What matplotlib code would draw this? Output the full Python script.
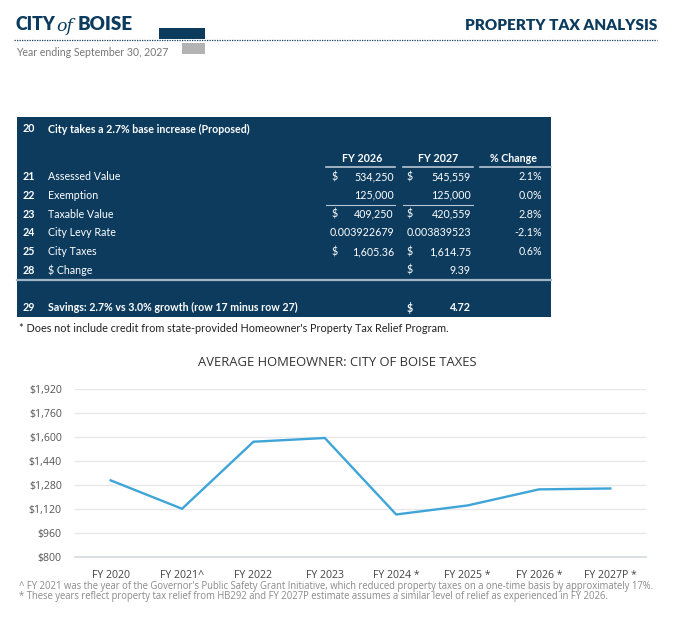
import matplotlib
matplotlib.use("Agg")
import matplotlib.pyplot as plt
from matplotlib.patches import Rectangle
from matplotlib.lines import Line2D
from matplotlib.ticker import FuncFormatter

# ---------------- data ----------------
years = ['FY 2020', 'FY 2021^', 'FY 2022', 'FY 2023', 'FY 2024 *', 'FY 2025 *', 'FY 2026 *', 'FY 2027P *']
city_taxes = [1312, 1123, 1569, 1594, 1085, 1145, 1252, 1258]
y_ticks = [800, 960, 1120, 1280, 1440, 1600, 1760, 1920]

row_nums = ['21', '22', '23', '24', '25', '28']
row_labels = ['Assessed Value', 'Exemption', 'Taxable Value', 'City Levy Rate', 'City Taxes', '$ Change']
fy2026 = ['534,250', '125,000', '409,250', '0.003922679', '1,605.36', '']
fy2026_dollar = [True, False, True, False, True, False]
fy2027 = ['545,559', '125,000', '420,559', '0.003839523', '1,614.75', '9.39']
fy2027_dollar = [True, False, True, False, True, True]
pct_change = ['2.1%', '0.0%', '2.8%', '-2.1%', '0.6%', '']
col_headers = ['FY 2026', 'FY 2027', '% Change']
savings_label = 'Savings: 2.7% vs 3.0% growth (row 17 minus row 27)'
savings_value = '4.72'

# ---------------- figure ----------------
W, H = 680, 631
fig = plt.figure(figsize=(W / 100, H / 100), dpi=100)
fig.patch.set_facecolor('white')

NAVY = '#0c3b5e'
FONT = 'Lato'


def fx(x):
    return x / W


def fy(y):
    return 1 - y / H


def txt(x, y, s, **kw):
    kw.setdefault('family', FONT)
    kw.setdefault('va', 'center')
    fig.text(fx(x), fy(y), s, **kw)


# header
txt(16, 25, 'CITY', fontsize=12.8, weight='heavy', color=NAVY)
txt(56, 26.5, 'of', fontsize=12.5, style='italic', color=NAVY, family='DejaVu Serif')
txt(78, 25, 'BOISE', fontsize=13.5, weight='heavy', color=NAVY)
txt(657, 25, 'PROPERTY TAX ANALYSIS', fontsize=11.0, weight='heavy', color=NAVY, ha='right')
fig.add_artist(Line2D([fx(14), fx(657)], [fy(40), fy(40)], color=NAVY, lw=0.9,
                      linestyle=(0, (1, 1)), transform=fig.transFigure))
fig.add_artist(Rectangle((fx(159), fy(39)), fx(46), 11 / H, transform=fig.transFigure,
                         facecolor=NAVY, edgecolor='none'))
fig.add_artist(Rectangle((fx(182), fy(54)), fx(23), 11 / H, transform=fig.transFigure,
                         facecolor='#b3b3b3', edgecolor='none'))
txt(16, 53, 'Year ending September 30, 2027', fontsize=7.6, color='#777777')

# ---------------- table ----------------
fig.add_artist(Rectangle((fx(17), fy(317)), fx(534), 200 / H, transform=fig.transFigure,
                         facecolor=NAVY, edgecolor='none'))
TS = 7.7
txt(23, 129, '20', fontsize=TS, weight='bold', color='white')
txt(48, 129, 'City takes a 2.7% base increase (Proposed)', fontsize=TS, weight='bold', color='white')

hdr_x = [362, 438, 513]
for hx, h in zip(hdr_x, col_headers):
    txt(hx, 158, h, fontsize=TS, weight='bold', color='white', ha='center')
for (a, b) in [(326, 395), (403, 473), (480, 551)]:
    fig.add_artist(Line2D([fx(a), fx(b)], [fy(166.5), fy(166.5)], color='#b8c6d3', lw=1.2,
                          transform=fig.transFigure))

row_y = [176.5, 195.3, 214, 232.7, 251.7, 270.3]
for i, y in enumerate(row_y):
    txt(23, y, row_nums[i], fontsize=TS, weight='bold', color='white')
    txt(48, y, row_labels[i], fontsize=TS, color='white')
    if fy2026_dollar[i]:
        txt(332, y, '$', fontsize=TS, color='white')
    if fy2026[i]:
        txt(394, y, fy2026[i], fontsize=TS, color='white', ha='right')
    if fy2027_dollar[i]:
        txt(407, y, '$', fontsize=TS, color='white')
    txt(471, y, fy2027[i], fontsize=TS, color='white', ha='right')
    if pct_change[i]:
        txt(542, y, pct_change[i], fontsize=TS, color='white', ha='right')

# line under exemption values
for (a, b) in [(326, 395), (403, 473)]:
    fig.add_artist(Line2D([fx(a), fx(b)], [fy(205), fy(205)], color='#b8c6d3', lw=0.8,
                          transform=fig.transFigure))
# separator
fig.add_artist(Line2D([fx(17), fx(551)], [fy(279.5), fy(279.5)], color='#9fb6c8', lw=1.6,
                      transform=fig.transFigure))
txt(23, 307.7, '29', fontsize=TS, weight='bold', color='white')
txt(48, 307.7, savings_label, fontsize=TS, weight='bold', color='white')
txt(407, 307.7, '$', fontsize=TS, weight='bold', color='white')
txt(471, 307.7, savings_value, fontsize=TS, weight='bold', color='white', ha='right')

txt(19, 328, "* Does not include credit from state-provided Homeowner's Property Tax Relief Program.",
    fontsize=7.8, color='#222222')

# ---------------- chart ----------------
ax_left, ax_right, ax_top, ax_bot = 75, 646, 389, 557.3
ax = fig.add_axes([fx(ax_left), fy(ax_bot), (ax_right - ax_left) / W, (ax_bot - ax_top) / H])
xs = list(range(len(years)))
ax.plot(xs, city_taxes, color='#3fa5d8', lw=1.7, solid_joinstyle='miter')
ax.set_xlim(-0.5, len(years) - 0.5)
ax.set_ylim(y_ticks[0], y_ticks[-1])
ax.set_yticks(y_ticks)
ax.yaxis.set_major_formatter(FuncFormatter(lambda v, p: '${:,.0f}'.format(v)))
ax.set_xticks(xs)
ax.set_xticklabels(years)
for s in ['top', 'right', 'left']:
    ax.spines[s].set_visible(False)
ax.spines['bottom'].set_color('#d5d9de')
ax.spines['bottom'].set_linewidth(1.2)
ax.grid(axis='y', color='#e6e8eb', lw=1)
ax.set_axisbelow(True)
ax.tick_params(axis='both', length=0, colors='#555555', labelsize=7.6)
ax.tick_params(axis='x', pad=9)
ax.tick_params(axis='y', pad=9.5)
for lab in ax.get_yticklabels() + ax.get_xticklabels():
    lab.set_family('Open Sans')
for lab in ax.get_xticklabels():
    lab.set_color('#444444')

txt(337, 362, 'AVERAGE HOMEOWNER: CITY OF BOISE TAXES', fontsize=9.4, color='#333333',
    ha='center', family='Open Sans')

txt(19, 586, '^ FY 2021 was the year of the Governor\'s Public Safety Grant Initiative, which reduced property taxes on a one-time basis by approximately 17%.',
    fontsize=6.85, color='#8a8a8a', family='Open Sans')
txt(19, 597, '* These years reflect property tax relief from HB292 and FY 2027P estimate assumes a similar level of relief as experienced in FY 2026.',
    fontsize=6.85, color='#8a8a8a', family='Open Sans')

fig.savefig('out.png', dpi=100, facecolor='white')
